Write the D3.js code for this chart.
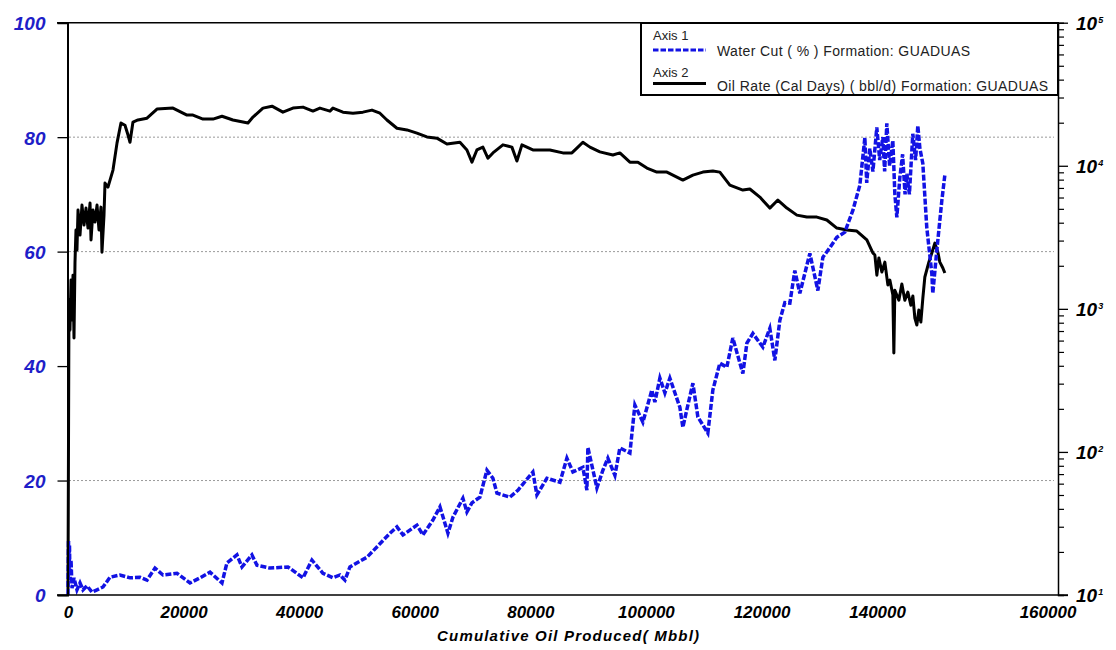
<!DOCTYPE html>
<html>
<head>
<meta charset="utf-8">
<script src="https://cdn.jsdelivr.net/npm/d3@7/dist/d3.min.js"></script>
<style>
  html, body { margin: 0; padding: 0; background: #fff; }
  svg { display: block; }
  text { font-family: "Liberation Sans", Arial, sans-serif; }
</style>
</head>
<body>
<svg id="chart" width="1116" height="650"></svg>
<script>
// Cumulative oil produced (Mbbl) and oil rate (bbl/d, calendar days) - Axis 2, log scale
const oilCum = [
  0, 171, 343, 525, 696, 867, 1038, 1210, 1381, 1552, 1734, 2077, 2419, 2773, 3115, 3458,
  3811, 3982, 4325, 4667, 5021, 5363, 5706, 5877, 6230, 6402, 6915, 7783, 8478, 9163, 9859,
  10384, 10726, 11240, 12107, 13670, 15394, 18166, 20586, 21624, 23358, 25082, 26645, 28540,
  31141, 32008, 33732, 35295, 37189, 38923, 40658, 42381, 43591, 45325, 45839, 47573, 49307,
  51031, 52594, 53975, 55184, 56919, 58642, 60376, 62100, 63834, 65568, 67816, 69026, 69893,
  70749, 71788, 72655, 73522, 75256, 76808, 77675, 78543, 80437, 83381, 85629, 87192, 88231,
  89087, 90307, 92031, 94279, 95489, 97223, 98604, 100167, 101890, 103624, 104663, 106386, 108121,
  109855, 111578, 112788, 114522, 116770, 117980, 119714, 121438, 122829, 124381, 126116,
  127839, 129573, 131297, 133031, 134765, 136489, 138223, 139261, 139611, 139957, 140303,
  140822, 141341, 141860, 142206, 142725, 142898, 143071, 143763, 144282, 144801, 145320,
  145839, 146185, 146531, 146877, 147223, 147569, 147915, 148261, 148953, 149472, 149991,
  150510, 150856, 151375, 151721
];
const oilRate = [
  11, 1150, 710, 1590, 835, 1720, 625, 2120, 3560, 2580, 4900, 3280, 5310, 3850, 5060, 3670,
  5490, 3030, 4900, 4040, 5310, 3560, 5140, 2490, 4520, 7570, 7100, 9330, 14400, 19900, 19200,
  16400, 14600, 20200, 20900, 21500, 24900, 25300, 22600, 22600, 21200, 21200, 22200, 20900,
  19900, 21900, 25300, 26100, 23700, 25300, 25700, 24100, 25300, 24100, 25300, 23700, 23300,
  23700, 24500, 23300, 20900, 18300, 17800, 16900, 15900, 15600, 14200, 14600, 12900, 10600,
  12900, 13500, 11300, 12300, 14000, 13500, 10800, 14000, 12900, 12900, 12300, 12300, 13500,
  14600, 13500, 12500, 11900, 12300, 10600, 10600, 9630, 9030, 9030, 8610, 7940, 8610,
  9030, 9180, 9030, 7330, 6760, 6880, 6040, 5060, 5760, 5060, 4520,
  4380, 4380, 4180, 3670, 3560, 3500, 3030, 2460, 2380, 1720, 2270,
  1810, 2120, 1470, 1590, 1250, 491, 1350, 1150, 1490, 1150, 1310,
  1060, 1230, 863, 771, 981, 809, 1190, 1670, 2120, 2460, 2880,
  2490, 2120, 1930, 1780
];

// Water cut (%) - Axis 1
const wcCum = [
  0, 86, 171, 257, 343, 525, 696, 1038, 1552, 2077, 2591, 3286, 4154, 5021, 6059, 7269, 8992,
  10726, 12461, 13670, 15051, 16432, 18851, 21110, 22834, 24568, 26645, 27501, 29235, 30102,
  31826, 32693, 34941, 38056, 40658, 42210, 44115, 45839, 47059, 47916, 48783, 51727, 53450,
  55709, 56919, 57957, 60376, 61415, 63138, 64358, 65739, 66607, 68330, 69026, 69893, 71274,
  72484, 73522, 74218, 76466, 77847, 80437, 81133, 82867, 85115, 86325, 87364, 89087, 89783,
  89954, 91517, 92555, 93412, 94632, 95489, 97223, 98090, 99471, 101023, 101548, 102415, 103282,
  104138, 105872, 106386, 108121, 108988, 110711, 111578, 112788, 113998, 115036, 116770, 117466,
  118504, 120228, 121438, 122305, 123172, 124039, 124906, 125762, 126629, 128364, 129745,
  130612, 131821, 133031, 134412, 135804, 137013, 137880, 138202, 138737, 139272, 139946,
  140450, 140985, 141306, 141681, 142163, 142719, 143072, 143415, 143929, 144410, 144839,
  145138, 145588, 146177, 146659, 147044, 147408, 147911, 148596, 149463, 149635, 150330,
  151197, 151712
];
const waterCut = [
  0, 9.6, 3.5, 8.7, 2.6, 6.1, 1.2, 3.0, 0.9, 2.1, 0.9, 1.6, 0.5, 0.9, 1.4, 3.1, 3.5,
  3.0, 3.1, 2.6, 4.7, 3.5, 3.8, 2.1, 3.0, 4.0, 2.1, 5.6, 7.0, 4.9,
  7.0, 5.2, 4.7, 4.9, 3.0, 6.1, 3.8, 3.0, 3.5, 2.6, 4.9, 6.6, 8.4,
  10.8, 11.9, 10.5, 12.2, 10.5, 13.1, 15.4, 10.8, 13.6, 16.9, 14.5, 16.1, 17.1,
  21.8, 20.4, 17.8, 17.1, 18.3, 21.5, 17.5, 20.4, 19.7, 23.9, 21.5, 22.3, 18.3,
  25.8, 18.7, 21.8, 23.9, 20.9, 25.7, 24.8, 33.2, 30.2, 35.8, 33.7, 37.9, 35.3,
  37.9, 32.8, 29.3, 37.0, 31.1, 28.3, 35.8, 40.5, 39.8, 44.9, 38.7, 44.0,
  45.7, 43.3, 46.6, 41.0, 48.0, 51.1, 51.0, 56.7, 52.7, 59.7, 53.2,
  59.0, 60.7, 62.5, 63.4, 67.2, 71.6, 79.9, 72.0, 78.0, 74.0, 81.7,
  76.0, 80.0, 74.0, 82.4, 75.0, 79.4, 70.0, 66.0, 72.9, 77.0, 70.0,
  73.6, 70.0, 80.6, 76.0, 82.0, 78.0, 75.4, 64.2, 56.2, 52.7, 60.2,
  68.9, 73.3
];

const xMax = 171300;
const xTicks = [0, 20000, 40000, 60000, 80000, 100000, 120000, 140000];
const xEndLabel = "160000";
const wcTicks = [0, 20, 40, 60, 80, 100];
const wcGrid = [20, 60, 80];
const rateDecades = [10, 100, 1000, 10000, 100000];

const legendItems = [
  { axis: "Axis 1", label: "Water Cut ( % ) Formation: GUADUAS", kind: "wc" },
  { axis: "Axis 2", label: "Oil Rate (Cal Days) ( bbl/d) Formation: GUADUAS", kind: "oil" }
];

const BLUE = "#1212e4";
const LABEL_BLUE = "#1e1ec8";

const svg = d3.select("#chart");

const plot = { left: 67.5, right: 1058, top: 22.7, bottom: 595 };

const x = d3.scaleLinear().domain([0, xMax]).range([68, plot.right]);
const yWc = d3.scaleLinear().domain([0, 100]).range([plot.bottom, plot.top]);
const yRate = d3.scaleLog().domain([10, 100000]).range([plot.bottom, plot.top]);

// dotted horizontal guides
svg.append("g").selectAll("line").data(wcGrid).join("line")
  .attr("x1", 69).attr("x2", plot.right - 4)
  .attr("y1", d => yWc(d)).attr("y2", d => yWc(d))
  .attr("stroke", "#9a9a9a").attr("stroke-width", 1)
  .attr("stroke-dasharray", "2,2");

// oil rate curve
const oilData = oilCum.map((c, i) => [c, oilRate[i]]);
svg.append("path")
  .datum(oilData)
  .attr("fill", "none")
  .attr("stroke", "#000")
  .attr("stroke-width", 3)
  .attr("stroke-linejoin", "round")
  .attr("d", d3.line().x(d => x(d[0])).y(d => yRate(d[1])));

// water cut curve
const wcData = wcCum.map((c, i) => [c, waterCut[i]]);
svg.append("path")
  .datum(wcData)
  .attr("fill", "none")
  .attr("stroke", BLUE)
  .attr("stroke-width", 3.5)
  .attr("stroke-dasharray", "6,2")
  .attr("d", d3.line().x(d => x(d[0])).y(d => yWc(d[1])));

// frame: top line
svg.append("line").attr("x1", 57).attr("x2", plot.right)
  .attr("y1", plot.top).attr("y2", plot.top)
  .attr("stroke", "#000").attr("stroke-width", 1.5);

// left axis (water cut)
const leftAxis = svg.append("g")
  .attr("transform", `translate(${plot.left},0)`)
  .call(d3.axisLeft(yWc).tickValues(wcTicks).tickSize(10).tickPadding(12).tickFormat(d3.format("d")));
leftAxis.select(".domain").attr("stroke", "#000").attr("stroke-width", 2);
leftAxis.selectAll(".tick line").attr("stroke", "#000").attr("stroke-width", 1.3);
leftAxis.selectAll(".tick text")
  .attr("fill", LABEL_BLUE)
  .style("font-size", "19px").style("font-style", "italic").style("font-weight", "bold")
  .attr("dy", "0.36em");

// bottom axis (cumulative oil)
const bottomAxis = svg.append("g")
  .attr("transform", `translate(0,${plot.bottom})`)
  .call(d3.axisBottom(x).tickValues(xTicks).tickSize(0).tickPadding(11).tickFormat(d3.format("d")));
bottomAxis.select(".domain").remove();
bottomAxis.append("text")
  .attr("class", "end-label")
  .attr("x", plot.right - 10).attr("y", 11).attr("dy", "0.71em")
  .attr("text-anchor", "middle")
  .text(xEndLabel);
bottomAxis.selectAll("text")
  .attr("fill", "#000")
  .style("font-size", "17px").style("font-style", "italic").style("font-weight", "bold");
svg.append("line").attr("x1", 57).attr("x2", plot.right + 10)
  .attr("y1", plot.bottom).attr("y2", plot.bottom)
  .attr("stroke", "#000").attr("stroke-width", 1.5);

// right axis (oil rate, log)
const minorTicks = [];
rateDecades.slice(0, -1).forEach(p => { for (let m = 2; m <= 9; m++) minorTicks.push(p * m); });

const rightMinor = svg.append("g")
  .attr("transform", `translate(${plot.right},0)`)
  .call(d3.axisRight(yRate).tickValues(minorTicks).tickSize(6).tickFormat(""));
rightMinor.select(".domain").attr("stroke", "#000").attr("stroke-width", 1.5);
rightMinor.selectAll(".tick line").attr("stroke", "#000").attr("stroke-width", 1.2);

const rightMajor = svg.append("g")
  .attr("transform", `translate(${plot.right},0)`)
  .call(d3.axisRight(yRate).tickValues(rateDecades).tickSize(10).tickPadding(8).tickFormat(""));
rightMajor.select(".domain").remove();
rightMajor.selectAll(".tick line").attr("stroke", "#000").attr("stroke-width", 1.3);
rightMajor.selectAll(".tick text").remove();
rightMajor.selectAll(".tick").append("text")
  .attr("x", 18).attr("dy", "0.36em")
  .attr("fill", "#000")
  .style("font-size", "19px").style("font-style", "italic").style("font-weight", "bold")
  .style("text-anchor", "start")
  .each(function (d) {
    const t = d3.select(this);
    t.append("tspan").text("10");
    t.append("tspan").attr("dy", "-0.8em").attr("dx", "1").style("font-size", "9px")
      .text(Math.round(Math.log10(d)));
  });

// x axis title
svg.append("text")
  .attr("x", 568).attr("y", 641)
  .attr("text-anchor", "middle")
  .attr("fill", "#000")
  .attr("textLength", 262).attr("lengthAdjust", "spacing")
  .style("font-size", "15px").style("font-style", "italic").style("font-weight", "bold")
  .text("Cumulative Oil Produced( Mbbl)");

// legend
const lg = svg.append("g");
lg.append("rect")
  .attr("x", 641).attr("y", 23).attr("width", plot.right - 641).attr("height", 72)
  .attr("fill", "#fff").attr("stroke", "#000").attr("stroke-width", 2);
const legendRows = [
  { axisY: 40, lineY: 50, textY: 55.5 },
  { axisY: 77, lineY: 83.5, textY: 91 }
];
legendItems.forEach((it, i) => {
  const r = legendRows[i];
  lg.append("text").attr("x", 653).attr("y", r.axisY).attr("fill", "#222")
    .style("font-size", "13px").text(it.axis);
  lg.append("line").attr("x1", 653).attr("x2", 706).attr("y1", r.lineY).attr("y2", r.lineY)
    .attr("stroke", it.kind === "wc" ? BLUE : "#000")
    .attr("stroke-width", 3)
    .attr("stroke-dasharray", it.kind === "wc" ? "5.5,2" : null);
  lg.append("text").attr("x", 717).attr("y", r.textY).attr("fill", "#222")
    .style("font-size", "14px")
    .attr("textLength", it.kind === "wc" ? 253 : 331)
    .attr("lengthAdjust", "spacing")
    .text(it.label);
});
</script>
</body>
</html>
